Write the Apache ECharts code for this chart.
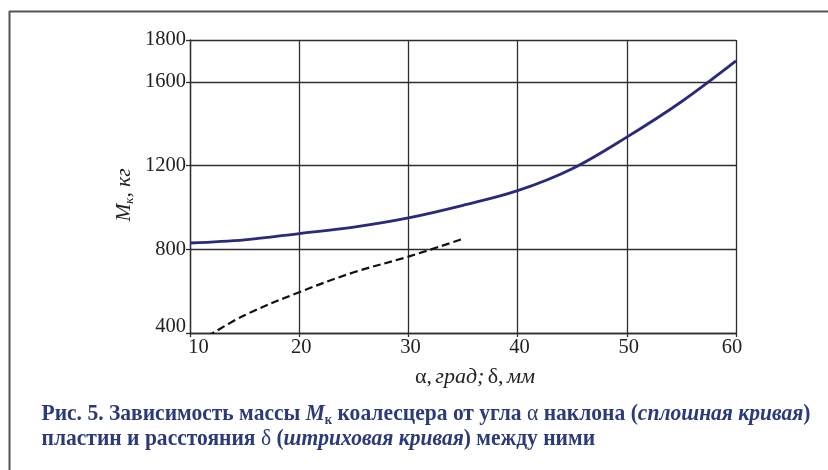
<!DOCTYPE html>
<html>
<head>
<meta charset="utf-8">
<script src="https://cdn.jsdelivr.net/npm/echarts@6/dist/echarts.min.js"></script>
<style>
html,body{margin:0;padding:0;background:#fff;}
#chart{width:828px;height:470px;}
</style>
</head>
<body>
<div id="chart"></div>
<script>
// ---- data ----
const xTicks = [10, 20, 30, 40, 50, 60];
const yTicks = [400, 800, 1200, 1600, 1800];
const angleDeg = [10, 15, 20, 25, 30, 35, 40, 45, 50, 55, 60];
const massByAngle = [830, 845, 875, 906, 950, 1010, 1080, 1185, 1336, 1505, 1700];
const gapMm = [11.6, 15, 20, 25, 30, 35];
const massByGap = [384, 485, 595, 690, 765, 850];
const captionLine1 = ['Рис. 5. Зависимость массы ', 'M', 'к', ' коалесцера от угла ', 'α', ' наклона (', 'сплошная кривая', ')'];
const captionLine2 = ['пластин и расстояния ', 'δ', ' (', 'штриховая кривая', ') между ними'];

const SERIF = '"Liberation Serif", "DejaVu Serif", serif';
const CAP = '#2b3a78';
const CAP_SIZE = 24;

// measure caption width to condense it like the original
const cv = document.createElement('canvas').getContext('2d');
function w(t, font){ cv.font = font; return cv.measureText(t).width; }
const fb = 'bold ' + CAP_SIZE + 'px ' + SERIF;
const fn = CAP_SIZE + 'px ' + SERIF;
const fbi = 'italic bold ' + CAP_SIZE + 'px ' + SERIF;
const fsub = 'bold 14px ' + SERIF;
const l1w = w(captionLine1[0], fb) + w(captionLine1[1], fbi) + w(captionLine1[2], fsub) +
  w(captionLine1[3], fb) + w(captionLine1[4], fn) + w(captionLine1[5], fb) +
  w(captionLine1[6], fbi) + w(captionLine1[7], fb);
const capScale = 769 / l1w;

const capRich = {
  b: {fontFamily: SERIF, fontWeight: 'bold', fontSize: CAP_SIZE, fill: CAP, lineHeight: 26},
  n: {fontFamily: SERIF, fontWeight: 'normal', fontSize: CAP_SIZE, fill: CAP, lineHeight: 26},
  bi: {fontFamily: SERIF, fontWeight: 'bold', fontStyle: 'italic', fontSize: CAP_SIZE, fill: CAP, lineHeight: 26},
  sub: {fontFamily: SERIF, fontWeight: 'bold', fontSize: 14, fill: CAP, lineHeight: 26, verticalAlign: 'bottom'}
};

const chart = echarts.init(document.getElementById('chart'), null, {renderer: 'canvas'});
const gridColor = '#2e2e2e';
const TICK_FONT = 20.5;
const tickText = {fontFamily: SERIF, fontSize: TICK_FONT, color: '#222'};

const option = {
  backgroundColor: '#fff',
  animation: false,
  grid: {left: 190, top: 40, width: 546, height: 293, containLabel: false},
  xAxis: {
    type: 'value', min: xTicks[0], max: xTicks[xTicks.length - 1], interval: 10,
    name: '{u|α,} {i|град;} {u|δ,} {i|мм}',
    nameLocation: 'middle', nameGap: 33,
    nameTextStyle: {
      padding: [0, 0, 0, 24],
      rich: {
        u: {fontFamily: SERIF, fontSize: 22, color: '#222'},
        i: {fontFamily: SERIF, fontSize: 22, fontStyle: 'italic', color: '#222'}
      }
    },
    axisLine: {show: true, lineStyle: {color: gridColor, width: 1.3}},
    axisTick: {show: true, length: 4, lineStyle: {color: gridColor, width: 1.3}},
    axisLabel: {fontFamily: SERIF, fontSize: TICK_FONT, color: '#222', margin: 4,
      formatter: v => {
        if (!xTicks.includes(v)) return '';
        if (v === xTicks[0]) return '{first|' + v + '}';
        if (v === xTicks[xTicks.length - 1]) return '{last|' + v + '}';
        return '{t|' + v + '}';
      },
      rich: {
        t: Object.assign({padding: [0, 0, 0, 4]}, tickText),
        first: Object.assign({padding: [0, 0, 0, 17]}, tickText),
        last: Object.assign({padding: [0, 8, 0, 0]}, tickText)
      }
    },
    splitLine: {show: true, lineStyle: {color: gridColor, width: 1.3}}
  },
  yAxis: {
    type: 'value', min: yTicks[0], max: yTicks[yTicks.length - 1], interval: 400,
    axisLine: {show: true, lineStyle: {color: gridColor, width: 1.3}},
    axisTick: {show: true, length: 4, lineStyle: {color: gridColor, width: 1.3}},
    axisLabel: {fontFamily: SERIF, fontSize: TICK_FONT, color: '#222', margin: 4,
      formatter: v => {
        if (!yTicks.includes(v)) return '';
        if (v === yTicks[0]) return '{low|' + v + '}';
        return '{t|' + v + '}';
      },
      rich: {
        t: Object.assign({}, tickText),
        low: Object.assign({padding: [0, 0, 12, 0]}, tickText)
      }
    },
    splitLine: {show: true, lineStyle: {color: gridColor, width: 1.3}}
  },
  series: [
    {
      type: 'line', name: 'angle', smooth: 0.35, symbol: 'none', clip: true,
      data: angleDeg.map((x, i) => [x, massByAngle[i]]),
      lineStyle: {color: '#2b2a78', width: 2.8}
    },
    {
      type: 'line', name: 'gap', smooth: 0.35, symbol: 'none', clip: true,
      data: gapMm.map((x, i) => [x, massByGap[i]]),
      lineStyle: {color: '#111', width: 2.2, type: [8, 4]}
    }
  ],
  graphic: [
    {type: 'line', shape: {x1: 9, y1: 11.5, x2: 828, y2: 11.5}, style: {stroke: '#555', lineWidth: 2}},
    {type: 'line', shape: {x1: 9.5, y1: 11, x2: 9.5, y2: 470}, style: {stroke: '#555', lineWidth: 2}},
    {
      type: 'text', x: 124, y: 195, rotation: Math.PI / 2,
      style: {
        text: '{i|M}{s|к}{i|, кг}',
        align: 'center', verticalAlign: 'middle',
        rich: {
          i: {fontFamily: SERIF, fontSize: 21.5, fontStyle: 'italic', fill: '#222', lineHeight: 24},
          s: {fontFamily: SERIF, fontSize: 13, fontStyle: 'italic', fill: '#222', lineHeight: 24, verticalAlign: 'bottom'}
        }
      }
    },
    {
      type: 'text', x: 41.5, y: 414, scaleX: capScale, originX: 0,
      style: {
        text: '{b|' + captionLine1[0] + '}{bi|' + captionLine1[1] + '}{sub|' + captionLine1[2] + '}{b|' +
          captionLine1[3] + '}{n|' + captionLine1[4] + '}{b|' + captionLine1[5] + '}{bi|' + captionLine1[6] + '}{b|' + captionLine1[7] + '}',
        align: 'left', verticalAlign: 'middle', rich: capRich
      }
    },
    {
      type: 'text', x: 41.5, y: 439, scaleX: capScale, originX: 0,
      style: {
        text: '{b|' + captionLine2[0] + '}{n|' + captionLine2[1] + '}{b|' + captionLine2[2] + '}{bi|' + captionLine2[3] + '}{b|' + captionLine2[4] + '}',
        align: 'left', verticalAlign: 'middle', rich: capRich
      }
    }
  ]
};
chart.setOption(option);
</script>
</body>
</html>
